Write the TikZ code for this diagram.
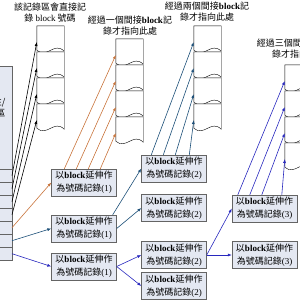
\documentclass[tikz,border=0pt]{standalone}
\usepackage{fontspec}
\setmainfont{Liberation Serif}
\newfontfamily\cjk{Noto Sans CJK TC}
\usetikzlibrary{arrows.meta,positioning,calc}
\definecolor{idxorange}{RGB}{200,115,58}
\definecolor{idxteal}{RGB}{28,79,120}
\definecolor{idxblue}{RGB}{40,40,190}
\definecolor{idxfill}{RGB}{228,232,242}
\definecolor{idxedge}{RGB}{100,100,100}
\newcommand{\zh}[1]{{\cjk #1}}

\begin{document}
\begin{tikzpicture}[x=1pt,y=-1pt,
  recbox/.style={draw=idxedge,fill=idxfill,minimum width=65pt,minimum height=27pt,inner sep=1pt,align=center,font=\fontsize{9}{13}\selectfont},
  slot/.style={draw=idxedge,fill=idxfill,minimum width=30pt,minimum height=13pt,inner sep=0pt},
  pageblk/.style={minimum width=27pt,minimum height=24pt,inner sep=0pt},
  toplabel/.style={align=center,font=\fontsize{9}{11}\selectfont},
  ptr/.style={-{Latex[length=4pt,width=3pt]},line width=0.6pt}]
  \useasboundingbox (0,0) rectangle (300,300);
  % inode with its pointer slots
  \node[slot,minimum height=103pt,anchor=north east] (inode) at (12,66) {};
  \node[anchor=east,align=right,font=\fontsize{9}{11}\selectfont] (inodetext) at (9,108) {\zh{屬性/}\\\zh{資料區}};
  \foreach \k in {1,...,7}
    \node[slot,anchor=north east] (s\k) at (12,{169+13*(\k-1)}) {};
  % data blocks
  \foreach \col/\x/\y in {1/37/26,2/116/39,3/194/26,4/285/65}
    \foreach \i in {1,...,4} {
      \node[pageblk] (b\col\i) at ({\x+13.5},{\y+12+26*(\i-1)}) {};
      \draw[fill=white] (b\col\i.south west) -- (b\col\i.north west) -- (b\col\i.north east) -- ([yshift=-1pt]b\col\i.south east)
        .. controls ([xshift=-10pt,yshift=9pt]b\col\i.south east) and ([xshift=10pt,yshift=-9pt]b\col\i.south west) .. (b\col\i.south west) -- cycle;
    }
  \node[toplabel] (lab1) at (50,12.5) {\zh{該記錄區會直接記}\\\zh{錄} block \zh{號碼}};
  \node[toplabel] (lab2) at (130,26) {\zh{經過一個間接}\textbf{block}\zh{記}\\\zh{錄才指向此處}};
  \node[toplabel] (lab3) at (207,12) {\zh{經過兩個間接}\textbf{block}\zh{記}\\\zh{錄才指向此處}};
  \node[toplabel] (lab4) at (299,49) {\zh{經過三個間接}\textbf{block}\zh{記}\\\zh{錄才指向此處}};
  % index blocks
  \node[recbox] (r1a) at (84,182.5) {\zh{以}\textbf{block}\zh{延伸作}\\\zh{為號碼記錄}(1)};
  \node[recbox] (r1b) at (84,228.5) {\zh{以}\textbf{block}\zh{延伸作}\\\zh{為號碼記錄}(1)};
  \node[recbox] (r1c) at (84,266.5) {\zh{以}\textbf{block}\zh{延伸作}\\\zh{為號碼記錄}(1)};
  \node[recbox] (r2a) at (174,168.5) {\zh{以}\textbf{block}\zh{延伸作}\\\zh{為號碼記錄}(2)};
  \node[recbox] (r2b) at (174,208) {\zh{以}\textbf{block}\zh{延伸作}\\\zh{為號碼記錄}(2)};
  \node[recbox] (r2c) at (174,255) {\zh{以}\textbf{block}\zh{延伸作}\\\zh{為號碼記錄}(2)};
  \node[recbox] (r2d) at (174,286) {\zh{以}\textbf{block}\zh{延伸作}\\\zh{為號碼記錄}(2)};
  \node[recbox] (r3a) at (264.5,208.5) {\zh{以}\textbf{block}\zh{延伸作}\\\zh{為號碼記錄}(3)};
  \node[recbox] (r3b) at (264.5,255) {\zh{以}\textbf{block}\zh{延伸作}\\\zh{為號碼記錄}(3)};
  % pointers
  \foreach \k in {1,...,4}
    \draw[ptr] (s\k.east) -- ([yshift=-4pt]b1\k.west);
  \draw[ptr,idxorange] (s5.east) -- (r1a.west);
  \draw[ptr,idxteal] (s6.east) -- (r1b.west);
  \draw[ptr,idxblue] (s7.east) -- (r1c.west);
  \foreach \k/\dx in {1/13,2/25,3/37,4/49}
    \draw[ptr,idxorange] ([xshift=\dx pt]r1a.north west) -- ([yshift=-4pt]b2\k.west);
  \foreach \k/\dx in {1/10,2/22,3/34,4/48}
    \draw[ptr,idxteal] ([xshift=\dx pt]r2a.north west) -- ([yshift=-4pt]b3\k.west);
  \foreach \k/\dx in {1/6,2/18,3/30,4/50}
    \draw[ptr,idxblue] ([xshift=\dx pt]r3a.north west) -- ([yshift=-4pt]b4\k.west);
  \draw[ptr,idxteal] ([xshift=-4pt]r1b.north east) -- (r2a.west);
  \draw[ptr,idxteal] (r1b.east) -- (r2b.west);
  \draw[ptr,idxblue] (r1c.east) -- (r2c.west);
  \draw[ptr,idxblue] (r1c.east) -- (r2d.west);
  \draw[ptr,idxblue] (r2c.east) -- (r3a.west);
  \draw[ptr,idxblue] (r2c.east) -- (r3b.west);
\end{tikzpicture}
\end{document}
